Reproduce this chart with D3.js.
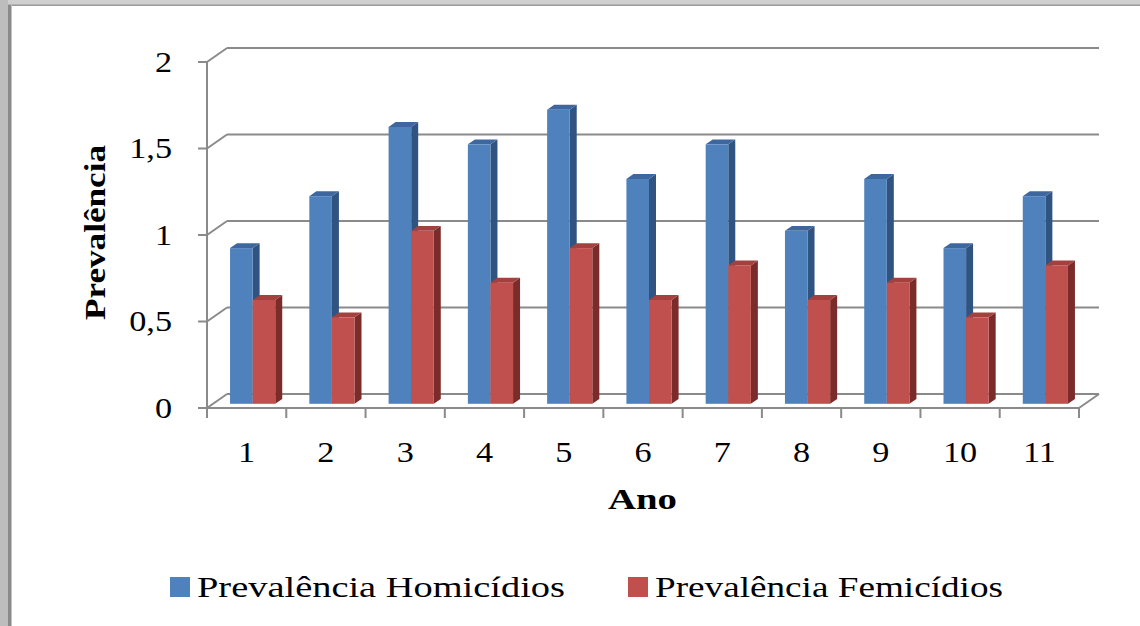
<!DOCTYPE html>
<html>
<head>
<meta charset="utf-8">
<script src="https://cdn.jsdelivr.net/npm/d3@7/dist/d3.min.js"></script>
<style>
  html, body { margin: 0; padding: 0; background: #ffffff; }
  svg { display: block; }
</style>
</head>
<body>
<svg id="chart" width="1140" height="626" font-family="Liberation Serif, Tinos, Times New Roman, Times, serif"></svg>
<script>
// Years 1..11 and the two prevalence series
const categories = ["1", "2", "3", "4", "5", "6", "7", "8", "9", "10", "11"];
const homicidios = [0.9, 1.2, 1.6, 1.5, 1.7, 1.3, 1.5, 1.0, 1.3, 0.9, 1.2];
const femicidios = [0.6, 0.5, 1.0, 0.7, 0.9, 0.6, 0.8, 0.6, 0.7, 0.5, 0.8];
const seriesNames = ["Prevalência Homicídios", "Prevalência Femicídios"];
const yTicks = [0, 0.5, 1, 1.5, 2];
const yTickLabels = ["0", "0,5", "1", "1,5", "2"];
const xTitle = "Ano";
const yTitle = "Prevalência";

const svg = d3.select("#chart");
const W = 1140, H = 626;

// window frame (top and left edges)
svg.append("rect").attr("x", 0).attr("y", 0).attr("width", W).attr("height", 5).attr("fill", "#cfcfcf");
svg.append("rect").attr("x", 0).attr("y", 4.5).attr("width", W).attr("height", 1.5).attr("fill", "#9a9a9a");
svg.append("rect").attr("x", 0).attr("y", 0).attr("width", 8).attr("height", H).attr("fill", "#bdbdbd");
svg.append("rect").attr("x", 8).attr("y", 5).attr("width", 3).attr("height", H).attr("fill", "#8a8a8a");
svg.append("rect").attr("x", 11).attr("y", 5).attr("width", 1).attr("height", H).attr("fill", "#c4c4c4");

// front plane of the 3D box
const x = d3.scaleBand().domain(categories).range([207, 1079]);
const y = d3.scaleLinear().domain([0, 2]).range([408, 62]);

// oblique depth vector of the box (full depth)
const depth = { dx: 20, dy: -14 };
// bars sit between these depth fractions
const barFront = 0.3, barBack = 0.65;

const gridColor = "#8a8a8a";
const grid = svg.append("g").attr("stroke", gridColor).attr("stroke-width", 2).attr("fill", "none");

const x0 = x.range()[0], x1 = x.range()[1];

// back-wall gridlines plus their side-wall diagonals and tick marks
yTicks.forEach(t => {
  const yy = y(t);
  grid.append("line").attr("x1", x0 + depth.dx).attr("y1", yy + depth.dy)
      .attr("x2", x1 + depth.dx).attr("y2", yy + depth.dy);
  grid.append("line").attr("x1", x0).attr("y1", yy)
      .attr("x2", x0 + depth.dx).attr("y2", yy + depth.dy);
  grid.append("line").attr("x1", x0 - 9).attr("y1", yy).attr("x2", x0).attr("y2", yy);
});

// floor edges
grid.append("line").attr("x1", x0).attr("y1", y(0)).attr("x2", x1).attr("y2", y(0));
grid.append("line").attr("x1", x1).attr("y1", y(0))
    .attr("x2", x1 + depth.dx).attr("y2", y(0) + depth.dy);

// vertical axis
grid.append("line").attr("x1", x0).attr("y1", y(2)).attr("x2", x0).attr("y2", y(0) + 10);

// category boundary ticks
const bounds = categories.map(c => x(c)).concat([x1]);
bounds.forEach(bx => {
  grid.append("line").attr("x1", bx).attr("y1", y(0)).attr("x2", bx).attr("y2", y(0) + 10);
});

// 3D bars
const bw = x.bandwidth();
const barW = bw * 0.285;
const fdx = depth.dx * barFront, fdy = depth.dy * barFront;
const sdx = depth.dx * (barBack - barFront), sdy = depth.dy * (barBack - barFront);

const palettes = [
  { front: "#4f81bd", side: "#2f5481", top: "#3d679e" },
  { front: "#c0504d", side: "#7b2c2a", top: "#a4403d" }
];
const series = [homicidios, femicidios];

const bars = svg.append("g");
categories.forEach((c, i) => {
  const cx = x(c) + bw / 2 + fdx;
  series.forEach((vals, s) => {
    const v = vals[i];
    const pal = palettes[s];
    const xl = s === 0 ? cx - barW : cx;
    const xr = xl + barW;
    const yb = y(0) + fdy;
    const yt = y(v) + fdy;
    const g = bars.append("g");
    g.append("polygon")
      .attr("points", [[xr, yt], [xr + sdx, yt + sdy], [xr + sdx, yb + sdy], [xr, yb]].map(p => p.join(",")).join(" "))
      .attr("fill", pal.side);
    g.append("polygon")
      .attr("points", [[xl, yt], [xl + sdx, yt + sdy], [xr + sdx, yt + sdy], [xr, yt]].map(p => p.join(",")).join(" "))
      .attr("fill", pal.top);
    g.append("rect").attr("x", xl).attr("y", yt).attr("width", barW).attr("height", yb - yt)
      .attr("fill", pal.front);
  });
});

// text is rendered slightly wide
const stretch = 1.18;

// y tick labels
svg.append("g").selectAll("text").data(yTicks).join("text")
  .attr("transform", d => `translate(172,${y(d)}) scale(${stretch},1)`)
  .attr("dy", "0.34em")
  .attr("text-anchor", "end")
  .attr("font-size", 29)
  .text((d, i) => yTickLabels[i]);

// x tick labels
svg.append("g").selectAll("text").data(categories).join("text")
  .attr("transform", d => `translate(${x(d) + bw / 2},462) scale(${stretch},1)`)
  .attr("text-anchor", "middle")
  .attr("font-size", 29)
  .text(d => d);

// axis titles
svg.append("text")
  .attr("x", 608).attr("y", 509)
  .attr("font-size", 30).attr("font-weight", "bold")
  .attr("textLength", 69).attr("lengthAdjust", "spacingAndGlyphs")
  .text(xTitle);

svg.append("text")
  .attr("transform", "translate(105,320) rotate(-90)")
  .attr("font-size", 30).attr("font-weight", "bold")
  .attr("textLength", 175).attr("lengthAdjust", "spacingAndGlyphs")
  .text(yTitle);

// legend
const legend = [
  { sx: 170, tx: 197, tl: 368 },
  { sx: 628, tx: 655, tl: 348 }
];
legend.forEach((l, i) => {
  svg.append("rect").attr("x", l.sx).attr("y", 577).attr("width", 20).attr("height", 20)
    .attr("fill", palettes[i].front);
  svg.append("text").attr("x", l.tx).attr("y", 597)
    .attr("font-size", 30)
    .attr("textLength", l.tl).attr("lengthAdjust", "spacingAndGlyphs")
    .text(seriesNames[i]);
});
</script>
</body>
</html>
